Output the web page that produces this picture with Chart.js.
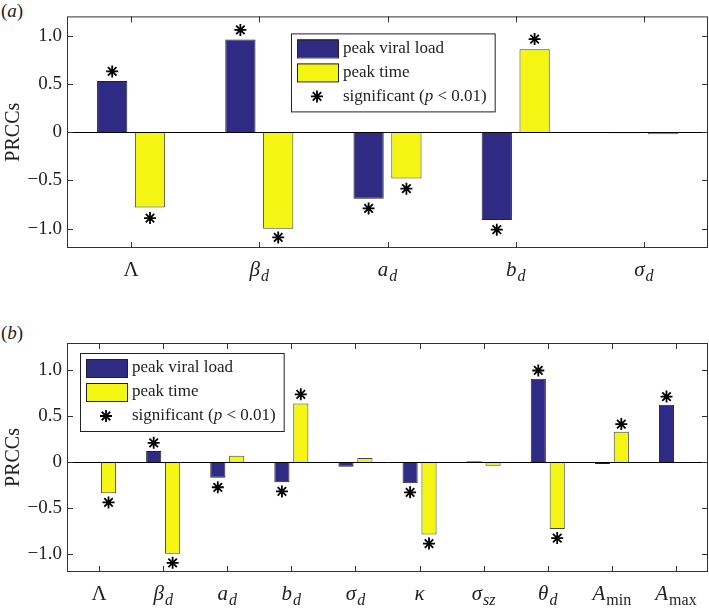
<!DOCTYPE html>
<html>
<head>
<meta charset="utf-8">
<script src="https://cdn.jsdelivr.net/npm/chart.js@4.4.0/dist/chart.umd.min.js"></script>
<style>
  body { margin: 0; background: #fff; width: 709px; height: 611px; position: relative; overflow: hidden; font-family: "Liberation Serif", serif; color: #222; }
  canvas { position: absolute; left: 0; }
  #chartA { top: 0; }
  #chartB { top: 300px; }
  .panel { position: absolute; left: 1px; font-size: 19px; line-height: 22px; }
</style>
</head>
<body>
<div class="panel" style="top:0px">(<i>a</i>)</div>
<div class="panel" style="top:322px">(<i>b</i>)</div>
<canvas id="chartA" width="709" height="300"></canvas>
<canvas id="chartB" width="709" height="311"></canvas>
<script>
const blueColor = '#2f2a84';   // peak viral load
const yellowColor = '#f5f514'; // peak time
const frameColor = '#333333';
const serif = '"Liberation Serif", "Times New Roman", serif';

// --- panel (a) ---
const categoriesA = ['Λ', 'β_d', 'a_d', 'b_d', 'σ_d'];
const viralLoadA = [0.53, 0.96, -0.69, -0.91, -0.01];
const peakTimeA = [-0.78, -1.0, -0.48, 0.86, -0.02];
const viralStarsA = [0.63, 1.06, -0.79, -1.01, null];
const timeStarsA = [-0.89, -1.09, -0.585, 0.965, null];

// --- panel (b) ---
const categoriesB = ['Λ', 'β_d', 'a_d', 'b_d', 'σ_d', 'κ', 'σ_sz', 'θ_d', 'A_min', 'A_max'];
const viralLoadB = [-0.005, 0.12, -0.17, -0.22, -0.05, -0.23, 0.01, 0.91, -0.02, 0.625];
const peakTimeB = [-0.34, -1.0, 0.07, 0.64, 0.045, -0.79, -0.04, -0.73, 0.33, -0.005];
const viralStarsB = [null, 0.21, -0.275, -0.32, null, -0.33, null, 1.0, null, 0.715];
const timeStarsB = [-0.44, -1.1, null, 0.74, null, -0.89, null, -0.83, 0.415, null];

const yTicks = [-1, -0.5, 0, 0.5, 1];
const legendLabels = ['peak viral load', 'peak time', 'significant'];

// asterisk marker, + and x on top of each other
function drawStar(ctx, x, y, r) {
  ctx.save();
  ctx.strokeStyle = '#000';
  ctx.lineWidth = 1.8;
  ctx.beginPath();
  for (let k = 0; k < 4; k++) {
    const a = k * Math.PI / 4;
    ctx.moveTo(x - r * Math.cos(a), y - r * Math.sin(a));
    ctx.lineTo(x + r * Math.cos(a), y + r * Math.sin(a));
  }
  ctx.stroke();
  ctx.beginPath();
  ctx.arc(x, y, 2, 0, Math.PI * 2);
  ctx.fillStyle = '#000';
  ctx.fill();
  ctx.restore();
}

// category label with optional subscript: 'β_d' -> β (italic) + d (subscript)
function drawCategoryLabel(ctx, text, cx, baseline) {
  const parts = text.split('_');
  const main = parts[0];
  const sub = parts[1];
  const mainFont = (main === 'Λ' ? '' : 'italic ') + '21px ' + serif;
  const subFont = (sub === 'min' || sub === 'max' ? '' : 'italic ') + '16px ' + serif;
  ctx.font = mainFont;
  const w1 = ctx.measureText(main).width;
  let w2 = 0;
  if (sub) {
    ctx.font = subFont;
    w2 = ctx.measureText(sub).width + 1;
  }
  let x = cx - (w1 + w2) / 2;
  ctx.fillStyle = '#222';
  ctx.textAlign = 'left';
  ctx.textBaseline = 'alphabetic';
  ctx.font = mainFont;
  ctx.fillText(main, x, baseline);
  if (sub) {
    ctx.font = subFont;
    ctx.fillText(sub, x + w1 + 1, baseline + 5);
  }
}

function drawLegend(ctx, area, o) {
  const left = area.left + o.dx;
  const top = area.top + o.dy;
  const textX = left + 52;
  ctx.save();
  ctx.font = '17px ' + serif;
  const sigW = ctx.measureText('significant (').width;
  ctx.font = 'italic 17px ' + serif;
  const pW = ctx.measureText('p').width;
  ctx.font = '17px ' + serif;
  const restW = ctx.measureText(' < 0.01)').width;
  const boxW = 52 + sigW + pW + restW + 8;
  const boxH = 78;

  ctx.fillStyle = '#fff';
  ctx.fillRect(left, top, boxW, boxH);
  ctx.strokeStyle = '#222';
  ctx.lineWidth = 1;
  ctx.strokeRect(left + 0.5, top + 0.5, boxW, boxH);

  // swatches
  ctx.fillStyle = blueColor;
  ctx.fillRect(left + 6, top + 6, 41, 18);
  ctx.strokeRect(left + 6.5, top + 6.5, 41, 18);
  ctx.fillStyle = yellowColor;
  ctx.fillRect(left + 6, top + 30, 41, 18);
  ctx.strokeRect(left + 6.5, top + 30.5, 41, 18);
  drawStar(ctx, left + 26, top + 63, 6);

  ctx.fillStyle = '#222';
  ctx.textBaseline = 'middle';
  ctx.textAlign = 'left';
  ctx.fillText(legendLabels[0], textX, top + 15);
  ctx.fillText(legendLabels[1], textX, top + 39);
  ctx.fillText(legendLabels[2] + ' (', textX, top + 63);
  ctx.font = 'italic 17px ' + serif;
  ctx.fillText('p', textX + sigW, top + 63);
  ctx.font = '17px ' + serif;
  ctx.fillText(' < 0.01)', textX + sigW + pW, top + 63);
  ctx.restore();
}

const decorPlugin = {
  id: 'prccDecor',
  afterDraw(chart, args, opts) {
    const ctx = chart.ctx;
    const area = chart.chartArea;
    const xs = chart.scales.x;
    const ys = chart.scales.y;
    ctx.save();

    // zero line
    const y0 = Math.round(ys.getPixelForValue(0)) + 0.5;
    ctx.strokeStyle = '#000';
    ctx.lineWidth = 1;
    ctx.beginPath();
    ctx.moveTo(area.left, y0);
    ctx.lineTo(area.right, y0);
    ctx.stroke();

    // significance markers above / below the bar ends
    opts.stars.forEach((stars, di) => {
      const meta = chart.getDatasetMeta(di);
      stars.forEach((v, j) => {
        if (v === null) return;
        drawStar(ctx, meta.data[j].x, ys.getPixelForValue(v), 6);
      });
    });

    // frame and inward ticks
    ctx.strokeStyle = frameColor;
    ctx.lineWidth = 1;
    ctx.strokeRect(area.left + 0.5, area.top + 0.5, area.right - area.left - 1, area.bottom - area.top - 1);
    ctx.beginPath();
    ys.ticks.forEach(t => {
      const py = Math.round(ys.getPixelForValue(t.value)) + 0.5;
      ctx.moveTo(area.left, py); ctx.lineTo(area.left + 6, py);
      ctx.moveTo(area.right, py); ctx.lineTo(area.right - 6, py);
    });
    chart.data.labels.forEach((l, i) => {
      const px = Math.round(xs.getPixelForTick(i)) + 0.5;
      ctx.moveTo(px, area.bottom); ctx.lineTo(px, area.bottom - 6);
      ctx.moveTo(px, area.top); ctx.lineTo(px, area.top + 6);
    });
    ctx.stroke();

    // category labels
    chart.data.labels.forEach((l, i) => {
      drawCategoryLabel(ctx, l, xs.getPixelForTick(i), area.bottom + 28);
    });

    drawLegend(ctx, area, opts.legend);
    ctx.restore();
  }
};

function makeChart(id, labels, viral, time, starsViral, starsTime, yMin, yMax, padTop, xHeight, legendPos) {
  return new Chart(document.getElementById(id), {
    type: 'bar',
    data: {
      labels: labels,
      datasets: [
        { label: 'peak viral load', data: viral, backgroundColor: blueColor, borderColor: '#222', borderWidth: 1 },
        { label: 'peak time', data: time, backgroundColor: yellowColor, borderColor: '#444', borderWidth: 1 }
      ]
    },
    options: {
      responsive: false,
      animation: false,
      categoryPercentage: 0.59,
      barPercentage: 0.8,
      layout: { padding: { top: padTop, right: 1, bottom: 0, left: 0 } },
      scales: {
        x: {
          grid: { display: false, drawTicks: false },
          border: { display: false },
          ticks: { display: false },
          afterFit(scale) { scale.height = xHeight; }
        },
        y: {
          min: yMin,
          max: yMax,
          afterBuildTicks(scale) { scale.ticks = yTicks.map(v => ({ value: v })); },
          grid: { display: false, drawTicks: false },
          border: { display: false },
          ticks: {
            padding: 5,
            color: '#222',
            font: { family: serif, size: 19 },
            callback: v => v === 0 ? '0' : (v < 0 ? '\u2212' : '') + Math.abs(v).toFixed(1)
          },
          title: {
            display: true,
            text: 'PRCCs',
            color: '#222',
            font: { family: serif, size: 20 },
            padding: { top: 2, bottom: 0 }
          },
          afterFit(scale) { scale.width = 67; }
        }
      },
      plugins: {
        legend: { display: false },
        tooltip: { enabled: false },
        prccDecor: { stars: [starsViral, starsTime], legend: legendPos }
      }
    },
    plugins: [decorPlugin]
  });
}

makeChart('chartA', categoriesA, viralLoadA, peakTimeA, viralStarsA, timeStarsA, -1.2, 1.2, 15, 52, { dx: 224, dy: 17 });
makeChart('chartB', categoriesB, viralLoadB, peakTimeB, viralStarsB, timeStarsB, -1.2, 1.3, 43, 39, { dx: 13, dy: 10 });
</script>
</body>
</html>
